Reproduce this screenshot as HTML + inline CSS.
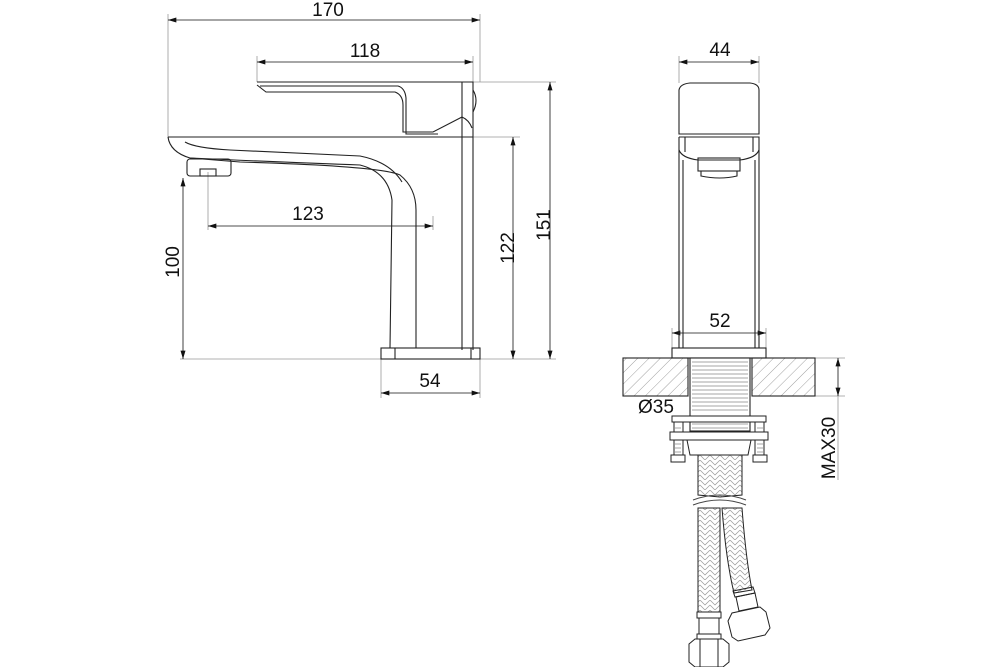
<!DOCTYPE html>
<html><head><meta charset="utf-8"><style>html,body{margin:0;padding:0;background:#fff}svg{display:block}</style></head>
<body>
<svg width="1000" height="667" viewBox="0 0 1000 667" xmlns="http://www.w3.org/2000/svg" font-family="Liberation Sans, sans-serif">
<defs>
<marker id="a" viewBox="0 0 10 6" refX="10" refY="3" markerWidth="15" markerHeight="5" markerUnits="userSpaceOnUse" orient="auto-start-reverse"><path d="M0,0L10,3L0,6z" fill="#111"/></marker>
<pattern id="h" width="8" height="8" patternUnits="userSpaceOnUse" patternTransform="rotate(45)"><line x1="0" y1="0" x2="0" y2="8" stroke="#888" stroke-width="0.8"/></pattern>
<pattern id="br" width="10" height="10" patternUnits="userSpaceOnUse"><path d="M0,0L5,5L10,0M0,5L5,10L10,5" fill="none" stroke="#999" stroke-width="0.7"/></pattern>
</defs>
<g stroke="#999" stroke-width="0.8" fill="none">
<line x1="168" y1="14" x2="168" y2="137"/>
<line x1="480" y1="14" x2="480" y2="82"/>
<line x1="257" y1="56" x2="257" y2="82"/>
<line x1="473" y1="56" x2="473" y2="82"/>
<line x1="473" y1="82" x2="556" y2="82"/>
<line x1="473" y1="137" x2="520" y2="137"/>
<line x1="180" y1="359" x2="556" y2="359"/>
<line x1="208" y1="172" x2="208" y2="230"/>
<line x1="433" y1="216" x2="433" y2="230"/>
<line x1="381" y1="359" x2="381" y2="398"/>
<line x1="480" y1="359" x2="480" y2="398"/>
<line x1="679" y1="56" x2="679" y2="83"/>
<line x1="759" y1="56" x2="759" y2="83"/>
<line x1="672" y1="328" x2="672" y2="348"/>
<line x1="766" y1="328" x2="766" y2="348"/>
<line x1="815" y1="358" x2="845" y2="358"/>
<line x1="815" y1="396" x2="845" y2="396"/>
<line x1="838" y1="396" x2="838" y2="480"/>
</g>
<g stroke="#111" stroke-width="0.8" fill="none" marker-start="url(#a)" marker-end="url(#a)">
<line x1="168" y1="20" x2="480" y2="20"/>
<line x1="257" y1="62" x2="473" y2="62"/>
<line x1="183" y1="178" x2="183" y2="359"/>
<line x1="208" y1="226" x2="433" y2="226"/>
<line x1="513" y1="137" x2="513" y2="359"/>
<line x1="550" y1="82" x2="550" y2="359"/>
<line x1="381" y1="393" x2="480" y2="393"/>
<line x1="679" y1="62" x2="759" y2="62"/>
<line x1="672" y1="333" x2="766" y2="333"/>
<line x1="838" y1="358" x2="838" y2="396"/>
<line x1="691" y1="415" x2="750" y2="415"/>
</g>
<g font-size="19" fill="#111" text-anchor="middle">
<text x="328" y="16">170</text>
<text x="365" y="57">118</text>
<text x="308" y="220">123</text>
<text x="430" y="387">54</text>
<text x="720" y="56">44</text>
<text x="720" y="327">52</text>
<text x="656" y="413">Ø35</text>
<text transform="translate(179,262) rotate(-90)">100</text>
<text transform="translate(514,248) rotate(-90)">122</text>
<text transform="translate(550,225) rotate(-90)">151</text>
<text transform="translate(835,448) rotate(-90)">MAX30</text>
</g>
<g stroke="#222" stroke-width="1.1" fill="none">
<path d="M257,82 L473,82 L473,350"/>
<line x1="462" y1="82" x2="462" y2="350"/>
<path d="M473,90 Q479,100 473,112"/>
<path d="M257,85 L266,92 L395,92 Q403,95 403,105 L403,132 L433,132 L462,117 Q469,120 472,128"/>
<path d="M260,86 L398,86 Q405,88 406,98 L406,134 L438,134"/>
<path d="M168,137 L473,137"/>
<path d="M168,137 Q170,152 190,158 L240,162 Q380,166 400,175 Q416,188 416,210 L416,348"/>
<path d="M185,142 Q195,148 230,150 L360,156 Q390,162 402,182"/>
<path d="M190,158 Q300,163 360,165 Q388,172 392,200 L390,348"/>
<rect x="187" y="159" width="44" height="17" rx="3"/>
<rect x="200" y="169" width="16" height="7"/>
<rect x="381" y="348" width="99" height="11"/>
<line x1="395" y1="348" x2="395" y2="359"/>
<line x1="471" y1="348" x2="471" y2="359"/>
</g>
<g stroke="#222" stroke-width="1.1" fill="none">
<path d="M679,134 L679,90 Q680,84 690,83 L750,83 Q759,84 759,90 L759,134 Z"/>
<path d="M679,137 L759,137 L759,348 M679,137 L679,348"/>
<line x1="683" y1="160" x2="683" y2="348"/>
<line x1="755" y1="160" x2="755" y2="348"/>
<path d="M679,150 Q682,158 698,160 L740,160 Q756,158 759,150"/>
<line x1="685" y1="137" x2="685" y2="152"/>
<line x1="753" y1="137" x2="753" y2="152"/>
<rect x="698" y="158" width="42" height="13"/>
<path d="M701,171 L701,176 Q720,180 737,176 L737,171"/>
<rect x="672" y="348" width="94" height="10"/>
<rect x="623" y="358" width="65" height="38" fill="url(#h)"/>
<rect x="752" y="358" width="63" height="38" fill="url(#h)"/>
<rect x="690" y="358" width="60" height="73" fill="#fff"/>
</g>
<g stroke="#888" stroke-width="0.7">
<path d="M692,362H748M692,366H748M692,370H748M692,374H748M692,378H748M692,382H748M692,386H748M692,390H748M692,394H748M692,398H748M692,402H748M692,406H748M692,410H748M692,424H748M692,428H748"/>
<path d="M675,428H681M675,432H681M675,444H681M675,448H681M675,452H681M757,428H763M757,432H763M757,444H763M757,448H763M757,452H763"/>
</g>
<g stroke="#222" stroke-width="1" fill="none">
<rect x="672" y="416" width="94" height="6" fill="#fff"/>
<rect x="670" y="432" width="98" height="8" fill="#fff"/>
<rect x="674" y="422" width="9" height="10"/>
<rect x="755" y="422" width="9" height="10"/>
<rect x="674" y="440" width="9" height="15"/>
<rect x="755" y="440" width="9" height="15"/>
<rect x="671" y="455" width="14" height="7"/>
<rect x="753" y="455" width="14" height="7"/>
<path d="M687,440 L690,455 L748,455 L751,440"/>
<path d="M698,455 L698,495 L720,497 L742,495 L742,455 Z" fill="url(#br)"/>
<path d="M693,500 Q720,490 746,500" stroke="#444"/>
<path d="M693,505 Q720,495 746,505" stroke="#444"/>
<path d="M698,508 L698,612 L720,612 L720,508 Z" fill="url(#br)"/>
<path d="M722,508 L742,508 Q746,560 752,590 L734,593 Q726,560 722,508 Z" fill="url(#br)"/>
<rect x="697" y="612" width="24" height="6"/>
<rect x="699" y="618" width="20" height="16"/>
<rect x="697" y="634" width="24" height="5"/>
<path d="M689,644 L695,639 L723,639 L729,644 L729,662 L723,667 L695,667 L689,662 Z"/>
<line x1="700" y1="639" x2="700" y2="667"/><line x1="718" y1="639" x2="718" y2="667"/>
<path d="M733,591 L753,587 L755,593 L735,597 Z"/>
<path d="M736,597 L755,593 L758,607 L739,611 Z"/>
<path d="M728,621 L732,613 L760,607 L766,612 L770,628 L765,635 L738,641 L732,637 Z"/>
</g>
</svg>
</body></html>
